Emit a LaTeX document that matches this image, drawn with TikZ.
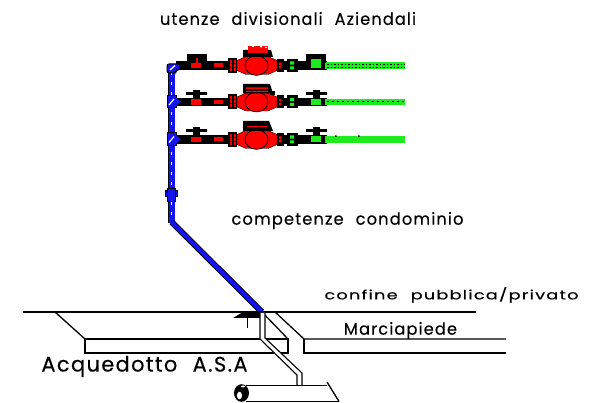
\documentclass[tikz,border=0pt]{standalone}
\usepackage{fontspec}
\usepackage{graphicx}
\setmainfont{Poppins}[LetterSpace=7,WordSpace=2.2,FakeBold=0.25]
\definecolor{cadblue}{RGB}{20,20,240}
\definecolor{cadgreen}{RGB}{30,235,30}
\definecolor{cadred}{RGB}{255,0,0}
\tikzset{
  x=1pt,y=-1pt,
  lbl/.style={inner sep=0pt,anchor=center,text=black},
  edge/.style={draw=black,line width=1.4pt},
  kerb/.style={draw=black,line width=1.3pt},
  thinline/.style={draw=black,line width=1.1pt},
}
\newcommand{\cadtext}[3]{\resizebox*{#1pt}{#2pt}{#3}}
% one meter row: #1 row y
\newcommand{\meterrow}[1]{%
  % black line through the whole assembly
  \fill[black] (176,#1-4.2) rectangle (327,#1+4.2);
  % green outgoing pipe
  \fill[cadgreen] (325,#1-3.2) rectangle (405,#1+3.2);
  % supply side
  \fill[cadred] (191,#1-2.8) rectangle (201,#1+2.8);
  \fill[cadred] (214,#1-2) rectangle (223,#1+2);
  % left union
  \fill[black] (228,#1-7.5) rectangle (237,#1+7.5);
  \foreach \cx in {229.5,233.5}{\foreach \cy in {-5.5,-1.5,2.5}{
    \fill[cadred] (\cx,#1+\cy) rectangle (\cx+2.6,#1+\cy+2.6);}}
  % meter body
  \fill[cadred,draw=black,line width=.4pt] (237,#1-5) -- (246,#1-9) -- (268,#1-9) -- (277,#1-5) -- (277,#1+5) -- (268,#1+9) -- (246,#1+9) -- (237,#1+5) -- cycle;
  \draw[fill=cadred,draw=black,line width=.8pt] (256.5,#1) ellipse (11.5 and 9.8);
  % right union
  \fill[black] (277,#1-6.5) rectangle (284,#1+6.5);
  \fill[cadred] (279,#1-3) rectangle (281.5,#1-.7) (279,#1+.7) rectangle (281.5,#1+3);
  % green union
  \fill[black] (287,#1-6.5) rectangle (298,#1+6.5);
  \fill[cadgreen] (290,#1-4) rectangle (294,#1-.8) (290,#1+.8) rectangle (294,#1+4);
  % green valve block
  \fill[cadgreen] (311,#1-3) rectangle (321,#1+3);
}
% lever handle: #1 centre x, #2 row y
\newcommand{\leverhandle}[2]{%
  \fill[black] (#1-10.5,#2-10) rectangle (#1+10.5,#2-7);
  \fill[black] (#1-3.5,#2-12) rectangle (#1+3.5,#2-4);
}
\begin{document}
\begin{tikzpicture}
\useasboundingbox (0,0) rectangle (590,403);
\fill[white] (0,0) rectangle (590,403);

% --- meter rows
\meterrow{65.5}
\meterrow{102}
\meterrow{139.5}

% row 1: boxed valves and speckled register
\fill[black] (187,54) rectangle (207,63);
\fill[cadred] (195.5,58) rectangle (197.5,62.7);
\fill[black] (306,54) rectangle (326,63);
\fill[cadgreen] (311,59) rectangle (321,62.7);
\fill[black] (243,50) -- (271,50) -- (273,57) -- (243,57) -- cycle;
\fill[cadred] (248,46) rectangle (268,53);
\fill[white] (252,46) rectangle (254,47) (260,46) rectangle (262,47.5) (265,47) rectangle (267,48);
\draw[black,line width=.7pt,dash pattern=on 1.5pt off 2pt] (327,64) -- (405,64) (327,67) -- (405,67);

% row 2: levers and barred register
\leverhandle{196.5}{102}
\leverhandle{316}{102}
\fill[black] (243,84) -- (270,84) -- (273,93.5) -- (243,93.5) -- cycle;
\fill[cadred] (246,87.5) rectangle (268,89) (246,90.8) rectangle (268,92.2);
\fill[black] (270,91) rectangle (275,95);
\draw[black,line width=.8pt,dash pattern=on 2pt off 3pt] (327,101) -- (405,101);

% row 3: levers and solid register
\leverhandle{196.5}{139.5}
\leverhandle{316}{139.5}
\fill[black] (243,121) -- (269,121) -- (273,131) -- (243,131) -- cycle;
\fill[cadred] (247,126) rectangle (267,127);
\fill[black] (335,135.5) rectangle (336.5,137) (358,135.5) rectangle (359.5,137);

% --- blue riser
\draw[draw=black,line width=7.5pt,line join=round] (171.5,66) -- (171.5,223);
\draw[draw=cadblue,line width=6pt,line join=round] (171.5,66) -- (171.5,223);
\draw[draw=white,line width=1pt,dash pattern=on 3pt off 7pt] (171.5,72) -- (171.5,220);
\draw[draw=black,line width=6pt,line join=round] (171.5,222) -- (262,312);
\draw[draw=cadblue,line width=4pt,line join=round] (171.5,222) -- (262,312);
% elbow and tees
\draw[fill=cadblue,draw=black,line width=1pt,rounded corners=2pt] (167,64) -- (180,64) -- (180,70) -- (176,70) -- (176,73) -- (167,73) -- cycle;
\draw[white,line width=1.3pt] (170,70) -- (175,65.5);
\draw[fill=cadblue,draw=black,line width=1pt] (167,95.5) rectangle (176,108);
\fill[cadblue] (176,98) -- (181,102) -- (176,106) -- cycle;
\draw[white,line width=1.2pt] (169,105) -- (174,99);
\draw[fill=cadblue,draw=black,line width=1pt] (167,133) rectangle (176,145.5);
\fill[cadblue] (176,135.5) -- (181,139.5) -- (176,143.5) -- cycle;
\draw[white,line width=1.2pt] (169,142.5) -- (174,136.5);
% in-line fitting
\draw[fill=cadblue,draw=black,line width=1pt] (165,191) rectangle (177,197);
\draw[fill=cadblue,draw=black,line width=.8pt] (167,188) rectangle (175,201);

% --- ground
\draw[edge] (23,312) -- (476,312);
\draw[kerb,line join=miter] (55,312) -- (85,339);
\draw[kerb] (85,339) rectangle (288,353);
\draw[kerb] (262,312) -- (288,339);
\draw[kerb] (275,312) -- (304,339) -- (506,339);
\draw[kerb] (304,339) -- (304,353) -- (506,353);

% --- valve below the kerb
\fill[black] (233,318) -- (243,312) -- (260,312) -- (260,318) -- cycle;
\draw[thinline] (247.5,317) -- (247.5,328);

% --- service pipe
\fill[white] (260,313) -- (265,313) -- (265,338) -- (302,373) -- (302,385) -- (297,385) -- (297,375) -- (260,339) -- cycle;
\draw[thinline,line join=round] (260,313) -- (260,339) -- (297,375) -- (297,385);
\draw[thinline,line join=round] (265,313) -- (265,338) -- (302,373) -- (302,385);

% --- main
\draw[kerb] (246,385.5) -- (327,385.5);
\draw[kerb] (246,401.5) -- (339,401.5);
\draw[kerb] (327,382) -- (339,401.5);
\fill[black] (241.5,393) ellipse (7.5 and 8.8);
\fill[white] (239.5,395.5) ellipse (2.6 and 3.8);
\fill[white] (243,386.5) ellipse (2 and 1);

% --- labels
\node[lbl] (utenze) at (288,18.5) {\cadtext{256}{13}{utenze divisionali Aziendali}};
\node[lbl] (comp) at (347.5,220.5) {\cadtext{232}{17}{competenze condominio}};
\node[lbl] (confine) at (451.5,295) {\cadtext{254}{15.5}{confine pubblica/privato}};
\node[lbl] (marcia) at (400.5,330.5) {\cadtext{113}{17}{Marciapiede}};
\node[lbl] (asa) at (144.5,366.5) {\cadtext{206}{21}{Acquedotto A.S.A}};
\end{tikzpicture}
\end{document}
